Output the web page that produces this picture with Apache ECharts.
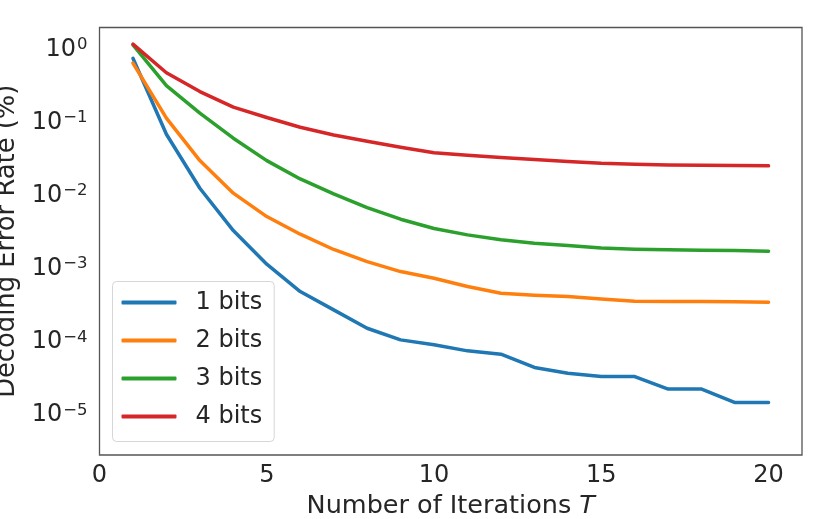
<!DOCTYPE html>
<html>
<head>
<meta charset="utf-8">
<script src="https://cdn.jsdelivr.net/npm/echarts@6/dist/echarts.min.js"></script>
<style>
  html, body { margin: 0; padding: 0; background: #fff; }
  #chart { width: 830px; height: 519px; }
</style>
</head>
<body>
<div id="chart"></div>
<script>
// iterations T
const iterations = [1, 2, 3, 4, 5, 6, 7, 8, 9, 10, 11, 12, 13, 14, 15, 16, 17, 18, 19, 20];

// decoding error rate (%)
const bits1 = [0.757, 0.069, 0.0126, 0.00332, 0.00115, 0.000486, 0.000273, 0.000153, 0.000106, 0.0000907,
               0.000075, 0.0000676, 0.0000444, 0.0000371, 0.0000334, 0.0000334, 0.0000225, 0.0000225, 0.0000147, 0.0000147];
const bits2 = [0.65, 0.1145, 0.0301, 0.0108, 0.00516, 0.00296, 0.00183, 0.00125, 0.000912, 0.00074,
               0.000569, 0.000462, 0.000434, 0.000416, 0.000383, 0.000359, 0.000355, 0.000355, 0.000352, 0.000348];
const bits3 = [1.15, 0.32, 0.134, 0.061, 0.0301, 0.0169, 0.01055, 0.00685, 0.00475, 0.00354,
               0.0029, 0.00248, 0.00223, 0.00207, 0.00192, 0.00185, 0.00181, 0.00179, 0.00177, 0.00173];
const bits4 = [1.18, 0.48, 0.265, 0.162, 0.117, 0.086, 0.0676, 0.0555, 0.0459, 0.0385,
               0.0357, 0.0331, 0.0311, 0.0292, 0.0277, 0.0269, 0.0263, 0.0261, 0.0258, 0.0255];

const seriesNames = ['1 bits', '2 bits', '3 bits', '4 bits'];
const seriesColors = ['#1f77b4', '#ff7f0e', '#2ca02c', '#d62728'];
const xTicks = [0, 5, 10, 15, 20];

const font = 'DejaVu Sans';
const ink = '#262626';

const toPairs = (vals) => iterations.map((t, i) => [t, vals[i]]);

const chart = echarts.init(document.getElementById('chart'), null, { renderer: 'canvas' });

const option = {
  animation: false,
  backgroundColor: '#fff',
  grid: {
    left: 99.5, top: 27.5, right: 28, bottom: 64,
    containLabel: false, outerBoundsMode: 'none',
    show: true, borderColor: '#555', borderWidth: 1.3, backgroundColor: 'transparent'
  },
  legend: {
    orient: 'vertical',
    left: 112.5, top: 281.5,
    data: seriesNames,
    icon: 'roundRect',
    itemWidth: 55, itemHeight: 4, itemGap: 8,
    padding: [6, 12, 10, 9],
    backgroundColor: '#fff',
    borderColor: '#d6d6d6', borderWidth: 1, borderRadius: 4,
    textStyle: { fontFamily: font, fontSize: 24, color: ink, lineHeight: 30, padding: [0, 0, 0, 14] }
  },
  xAxis: {
    type: 'value',
    min: 0, max: 21, interval: 5,
    name: 'Number of Iterations {i|T}',
    nameLocation: 'middle', nameGap: 36,
    nameTextStyle: {
      fontFamily: font, fontSize: 25.5, color: ink,
      rich: { i: { fontFamily: font, fontStyle: 'italic', fontSize: 25.5, color: ink } }
    },
    axisLine: { show: false }, axisTick: { show: false }, splitLine: { show: false },
    axisLabel: {
      fontFamily: font, fontSize: 24, color: ink, margin: 9,
      showMaxLabel: false,
      formatter: (v) => xTicks.indexOf(v) >= 0 ? String(v) : ''
    }
  },
  yAxis: {
    type: 'log', logBase: 10,
    min: Math.pow(10, -5.55), max: Math.pow(10, 0.3),
    name: 'Decoding Error Rate (%)',
    nameLocation: 'middle', nameGap: 78,
    nameTextStyle: { fontFamily: font, fontSize: 25.8, color: ink },
    axisLine: { show: false }, axisTick: { show: false }, splitLine: { show: false },
    axisLabel: {
      margin: 12, showMinLabel: false, showMaxLabel: false,
      formatter: (v) => {
        const e = Math.log10(v);
        const r = Math.round(e);
        if (Math.abs(e - r) > 0.01) return '';
        const sup = r === 0 ? '0' : '\u2212' + (-r);
        return '{b|10}{s|' + sup + '}';
      },
      rich: {
        b: { fontFamily: font, fontSize: 24, lineHeight: 26, color: ink },
        s: { fontFamily: font, fontSize: 16.5, lineHeight: 16, color: ink, verticalAlign: 'top', padding: [0, 0, 0, 1] }
      }
    }
  },
  series: [bits1, bits2, bits3, bits4].map((vals, i) => ({
    name: seriesNames[i],
    type: 'line',
    data: toPairs(vals),
    showSymbol: false,
    symbol: 'none',
    color: seriesColors[i],
    lineStyle: { width: 3.5, color: seriesColors[i], cap: 'round', join: 'round' },
    z: 2 + i
  }))
};

chart.setOption(option);
</script>
</body>
</html>
